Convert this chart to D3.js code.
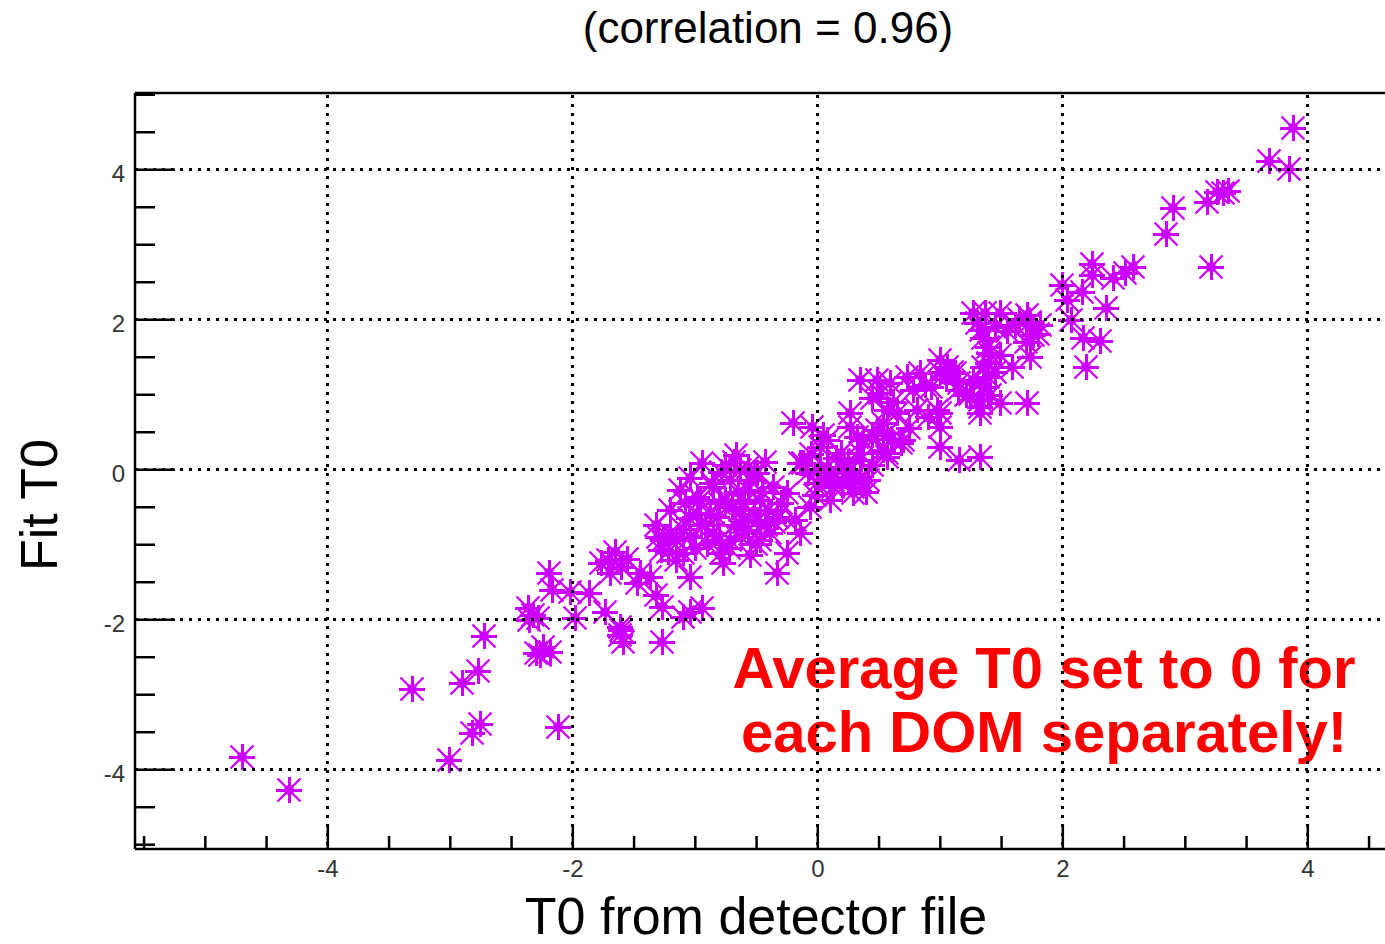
<!DOCTYPE html>
<html><head><meta charset="utf-8">
<script src="https://cdn.jsdelivr.net/npm/d3@7"></script>
<style>body{margin:0;background:#fff}svg{display:block}text{font-family:"Liberation Sans",Arial,Helvetica,sans-serif}</style>
</head><body><svg id="c" width="1385" height="944"></svg>
<script>
// ---- data ----
const xValues = [
-4.70,-4.31,-3.31,-3.01,-2.90,-2.77,-2.72,-2.82,-2.75,-2.12,
-2.19,-2.17,-2.02,-1.86,-2.32,-2.36,-1.98,-1.73,-1.61,-1.59,-2.24,-2.26,-2.18,-1.65,-1.77,-1.69,-1.47,-1.37,-1.28,-1.15,-1.27,-1.10,-1.27,-1.04,-0.94,-1.61,-2.35,-1.71,
-0.94,-0.66,-0.57,-1.12,-0.98,-0.85,-0.71,-0.57,-0.49,-0.36,-0.25,-0.12,0.00,-0.06,-0.98,-0.82,-0.63,-0.49,-0.33,-1.20,-1.04,-0.85,-0.71,-0.57,-0.39,-0.14,-1.26,-1.10,-0.79,-0.77,-1.04,-0.25,-0.33,-1.45,-0.96,-0.47,-0.63,-0.75,-0.92,-0.67,-0.47,-1.32,-1.20,-0.55,
-0.20,-0.04,0.27,0.49,-0.14,0.02,0.27,0.54,0.13,0.29,-0.08,0.41,0.02,0.21,0.35,0.57,0.68,0.32,0.54,0.65,0.81,1.00,1.00,1.00,1.16,1.33,0.27,0.51,0.35,0.49,0.59,0.73,0.84,1.06,1.35,1.33,1.33,0.57,0.98,0.57,0.70,0.37,0.08,0.19,0.35,0.57,0.08,0.24,0.13,0.35,0.29,
1.27,1.37,1.49,1.71,1.74,1.34,1.76,1.39,1.74,1.59,1.39,1.39,1.12,1.16,1.27,1.00,1.00,1.35,1.33,1.49,1.71,1.82,1.61,1.21,0.88,1.41,1.49,
2.00,2.24,2.24,2.58,2.41,2.16,2.04,2.07,2.36,2.17,2.31,2.19,3.88,3.69,3.85,3.31,3.26,3.35,3.18,2.90,2.85,3.21,2.51,
-0.18,-0.02,0.10,-0.43,-0.79,-1.04,-1.32,
-0.60,-0.52,-0.45,-0.40,-0.65,-0.70,-0.55,-0.42,-0.60,-0.80,-0.88,-0.95,-1.05,-1.10,-1.15,-0.90,-0.80,-1.00,-0.68,-0.75,-0.52,-0.30,-0.35,-0.62,-0.86,-1.08,-1.30,-1.22,-0.72,-0.50,
0.10,0.20,0.30,0.40,0.15,0.25,0.45,-0.05,0.05,0.45,0.60,0.75,0.90,0.62,0.45,0.78,0.93,1.05,1.15,1.10,
1.30,1.45,1.35,1.40,1.65,1.80,1.70,1.55,1.45,1.25,
-2.28,-2.30,-1.60,-1.55,-1.60];
const yValues = [
-3.84,-4.28,-2.93,-3.88,-2.85,-2.69,-2.22,-3.52,-3.40,-3.44,
-1.38,-1.61,-1.64,-1.65,-1.94,-1.85,-1.98,-1.90,-2.10,-2.30,-2.37,-2.48,-2.44,-1.10,-1.25,-1.38,-1.52,-1.44,-1.08,-1.21,-1.84,-1.97,-2.30,-1.90,-1.85,-2.21,-2.01,-1.21,
0.08,0.19,0.03,-0.28,-0.37,-0.24,-0.14,-0.28,-0.05,-0.24,-0.32,0.08,-0.18,-0.50,-0.58,-0.64,-0.54,-0.68,-0.64,-0.85,-0.90,-0.85,-0.94,-0.81,-0.85,-0.85,-0.94,-1.12,-1.12,-1.25,-1.44,-1.12,-1.38,-1.38,-0.41,-0.41,-0.01,-0.41,-0.74,-0.74,-0.94,-0.74,-0.54,-1.14,
0.62,0.56,0.56,0.52,0.08,-0.01,-0.01,0.26,-0.24,-0.32,-0.05,-0.14,0.30,0.03,0.22,0.22,0.35,0.43,0.62,0.75,0.79,0.75,0.56,0.30,0.12,0.16,0.75,1.02,1.19,1.19,1.15,1.23,1.28,1.36,1.36,0.92,0.75,0.79,0.79,0.48,0.39,0.39,0.39,0.22,0.12,0.16,0.03,-0.05,-0.14,-0.14,-0.24,
2.08,2.08,2.08,2.06,1.96,1.86,1.79,1.63,1.50,1.36,1.42,1.23,1.28,1.15,1.19,1.46,1.30,1.10,0.83,0.88,0.88,1.92,1.92,0.99,1.12,0.99,1.52,
2.46,2.74,2.59,2.70,2.55,2.36,2.26,1.99,2.15,1.75,1.71,1.36,4.55,4.11,4.00,3.68,3.70,3.71,3.56,3.48,3.14,2.70,2.62,
-0.68,-0.34,-0.41,0.10,-0.04,-0.12,-1.68,
-0.45,-0.60,-0.30,-0.55,-0.30,-0.50,-0.15,-0.75,-0.70,-0.45,-0.60,-0.75,-0.65,-0.80,-0.95,-1.00,-0.95,-1.05,0.10,0.05,-0.05,-0.45,-0.70,-0.90,-0.18,-0.45,-0.90,-1.10,-1.05,-1.00,
-0.10,-0.20,-0.10,-0.30,0.15,0.10,0.05,0.20,0.45,0.45,0.40,0.55,0.70,0.90,0.95,1.05,1.10,1.20,1.05,1.30,
1.95,1.90,1.75,1.55,2.00,1.80,1.70,1.85,1.30,1.00,
-1.98,-2.45,-2.15,-1.20,-1.30];
const xMajorTicks = [-4,-2,0,2,4];
const yMajorTicks = [-4,-2,0,2,4];
const xMinorTicks = [-5.5,-5,-4.5,-3.5,-3,-2.5,-1.5,-1,-0.5,0.5,1,1.5,2.5,3,3.5,4.5];
const yMinorTicks = [-5,-4.5,-3.5,-3,-2.5,-1.5,-1,-0.5,0.5,1,1.5,2.5,3,3.5,4.5,5];
const titleText = "(correlation = 0.96)";
const xTitle = "T0 from detector file";
const yTitle = "Fit T0";
const noteLines = ["Average T0 set to 0 for", "each DOM separately!"];

// ---- layout ----
const svg = d3.select("#c");
const L = 135, T = 93, B = 849;
const x = d3.scaleLinear().domain([-5.57, 4.75]).range([L, L + 10.32 * 122.5]);
const y = d3.scaleLinear().domain([-5.064, 5.017]).range([B, T]);
const points = xValues.map((v, i) => ({x: v, y: yValues[i]}));
const col = "#cc00ff";

// markers (ROOT star marker)
const mk = svg.append("g");
const g = mk.selectAll("g").data(points).join("g")
  .attr("transform", d => `translate(${Math.round(x(d.x))},${Math.round(y(d.y))})`);
g.append("path").attr("d", "M-13,0H13M0,-13V13").attr("stroke", col).attr("stroke-width", 3).attr("fill", "none").attr("shape-rendering", "crispEdges");
g.append("path").attr("d", "M-11.5,-11.5L11.5,11.5M-11.5,11.5L11.5,-11.5").attr("stroke", col).attr("stroke-width", 2.3).attr("fill", "none");
g.append("rect").attr("x", -4.5).attr("y", -4.5).attr("width", 9).attr("height", 9).attr("fill", col);

// annotation
const note = svg.append("g").attr("font-weight", "bold").attr("fill", "#ff0000").attr("font-size", 58).attr("text-anchor", "middle");
note.selectAll("text").data(noteLines).join("text")
  .attr("x", 1044).attr("y", (d, i) => 688 + i * 64).text(d => d);

// grid
const grid = svg.append("g").attr("stroke", "#000").attr("stroke-width", 3).attr("stroke-dasharray", "3,6").attr("shape-rendering", "crispEdges");
grid.selectAll("line.v").data(xMajorTicks).join("line").attr("class", "v")
  .attr("x1", d => Math.round(x(d))).attr("x2", d => Math.round(x(d))).attr("y1", T + 2).attr("y2", B);
grid.selectAll("line.h").data(yMajorTicks).join("line").attr("class", "h")
  .attr("y1", d => Math.round(y(d))).attr("y2", d => Math.round(y(d))).attr("x1", L).attr("x2", 1385);

// x axis (ticks pointing up)
const fmt = d => String(d);
const xMinorAxis = d3.axisBottom(x).tickValues(xMinorTicks).tickSizeInner(-13).tickSizeOuter(0).tickFormat("");
const xMajorAxis = d3.axisBottom(x).tickValues(xMajorTicks).tickSizeInner(-25).tickSizeOuter(0).tickPadding(11).tickFormat(fmt);
[xMinorAxis, xMajorAxis].forEach(ax => {
  const a = svg.append("g").attr("transform", `translate(0,${B})`).call(ax);
  a.select(".domain").remove();
  a.selectAll("line").attr("stroke", "#000").attr("stroke-width", 2.5);
  a.selectAll("text").attr("font-size", 24).attr("fill", "#333").attr("font-family", "Liberation Sans, Arial, sans-serif");
});
// y axis (ticks pointing right)
const yMinorAxis = d3.axisLeft(y).tickValues(yMinorTicks).tickSizeInner(-20).tickSizeOuter(0).tickFormat("");
const yMajorAxis = d3.axisLeft(y).tickValues(yMajorTicks).tickSizeInner(-40).tickSizeOuter(0).tickPadding(10).tickFormat(fmt);
[yMinorAxis, yMajorAxis].forEach(ax => {
  const a = svg.append("g").attr("transform", `translate(${L},0)`).call(ax);
  a.select(".domain").remove();
  a.selectAll("line").attr("stroke", "#000").attr("stroke-width", 2.5);
  a.selectAll("text").attr("font-size", 24).attr("fill", "#333").attr("dy", "0.5em").attr("font-family", "Liberation Sans, Arial, sans-serif");
});

// frame
const fr = svg.append("g").attr("stroke", "#000").attr("stroke-width", 2.5).attr("fill", "none");
fr.append("line").attr("x1", L).attr("x2", 1385).attr("y1", T).attr("y2", T);
fr.append("line").attr("x1", L).attr("x2", L).attr("y1", T).attr("y2", B);
fr.append("line").attr("x1", L).attr("x2", 1385).attr("y1", B).attr("y2", B);

// titles
svg.append("text").attr("x", 768).attr("y", 43).attr("text-anchor", "middle").attr("font-size", 44).attr("fill", "#000").text(titleText);
svg.append("text").attr("x", 756).attr("y", 934).attr("text-anchor", "middle").attr("font-size", 52).attr("fill", "#000").text(xTitle);
svg.append("text").attr("transform", "translate(57,505) rotate(-90)").attr("text-anchor", "middle").attr("font-size", 52).attr("fill", "#000").text(yTitle);
</script></body></html>
